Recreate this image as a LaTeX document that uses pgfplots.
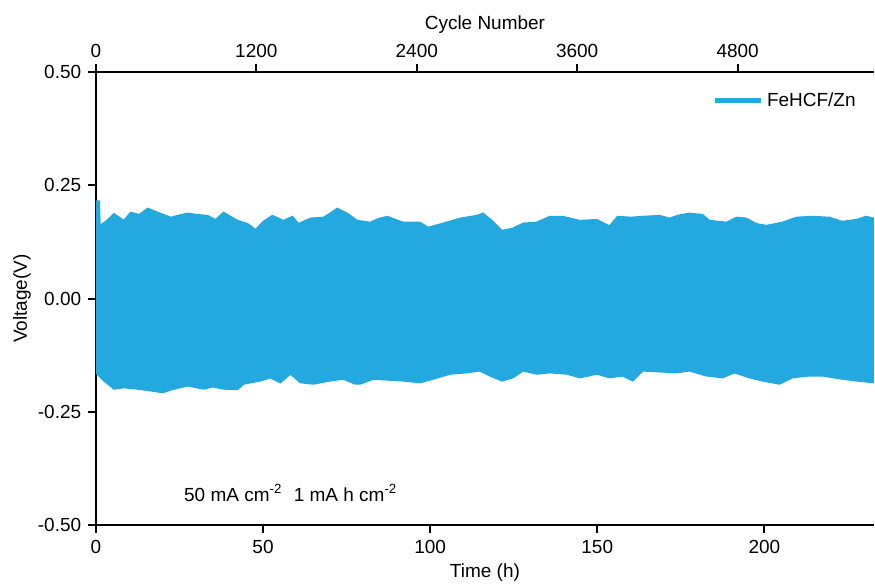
\documentclass[border=0pt]{standalone}
\usepackage{fontspec}
\setmainfont{Liberation Sans}
\usepackage{pgfplots}
\usepackage{pgfplotstable}
\pgfplotsset{compat=1.18}
\usepgfplotslibrary{fillbetween}
\definecolor{fecol}{RGB}{36,168,224}

% upper and lower envelope of the voltage band
\pgfplotstableread{
t v
0 0.215
1.0 0.215
1.2 0.161
3.0 0.170
5.4 0.187
8.4 0.172
10.4 0.190
13.0 0.185
15.5 0.199
18.5 0.190
22.4 0.179
25.0 0.184
27.5 0.188
30.4 0.185
33.4 0.183
35.8 0.174
38.2 0.190
40.5 0.180
42.4 0.172
45.4 0.165
47.8 0.152
50.1 0.170
52.8 0.183
56.1 0.172
58.8 0.181
60.6 0.165
64.2 0.177
68.1 0.179
70.5 0.190
72.2 0.199
75.2 0.188
78.2 0.172
82.1 0.168
84.5 0.176
87.2 0.181
91.9 0.168
97.0 0.168
99.4 0.157
103.9 0.166
109.0 0.177
114.0 0.183
115.8 0.188
118.5 0.172
121.5 0.150
124.8 0.155
127.8 0.166
131.9 0.168
135.8 0.181
139.7 0.181
144.8 0.172
149.9 0.174
153.7 0.160
156.1 0.181
160.0 0.179
163.6 0.181
168.7 0.183
171.6 0.177
174.5 0.184
177.6 0.188
181.5 0.185
183.6 0.172
188.7 0.168
191.6 0.179
194.6 0.177
197.6 0.165
200.6 0.161
205.4 0.168
209.6 0.179
214.3 0.181
219.4 0.179
223.3 0.170
227.5 0.174
230.4 0.181
232.8 0.177
}\upenv

\pgfplotstableread{
t v
0 -0.163
2.4 -0.181
5.4 -0.199
8.4 -0.196
12.5 -0.199
16.4 -0.203
20.0 -0.207
23.3 -0.199
27.5 -0.192
32.2 -0.199
35.0 -0.194
38.2 -0.199
42.4 -0.200
44.2 -0.188
49.3 -0.181
52.2 -0.174
55.2 -0.185
58.2 -0.166
61.2 -0.185
65.1 -0.188
70.1 -0.181
74.0 -0.177
77.6 -0.188
79.1 -0.188
83.0 -0.177
87.2 -0.179
91.9 -0.181
97.0 -0.185
100.9 -0.177
106.0 -0.166
111.0 -0.163
114.9 -0.159
117.9 -0.170
121.5 -0.181
124.8 -0.174
127.8 -0.159
131.9 -0.166
135.8 -0.163
140.9 -0.166
144.8 -0.174
149.9 -0.166
153.7 -0.174
157.6 -0.170
160.6 -0.181
163.6 -0.159
168.7 -0.161
173.7 -0.163
177.6 -0.159
182.7 -0.170
187.5 -0.174
191.0 -0.163
195.5 -0.174
199.4 -0.181
204.5 -0.188
208.4 -0.174
213.4 -0.170
217.3 -0.170
223.3 -0.177
227.5 -0.181
232.8 -0.185
}\loenv

\begin{document}
\fontsize{9.5}{11}\selectfont
\begin{tikzpicture}
\pgfplotsset{
  every axis/.append style={
    scale only axis, width=389.5pt, height=227pt,
    axis line style={line width=1pt},
    every tick/.style={black, line width=1pt},
    major tick length=4pt,
    tick align=outside,
    /pgf/number format/assume math mode=true,
    /pgf/number format/1000 sep={},
    ticklabel style={font=\fontsize{9.5}{11}\selectfont},
    label style={font=\fontsize{9.5}{11}\selectfont},
  }
}
\begin{axis}[
  name=ax,
  axis x line*=bottom, axis y line*=left,
  xmin=0, xmax=232.8,
  ymin=-0.5, ymax=0.5,
  xtick={0,50,100,150,200},
  ytick={-0.5,-0.25,0,0.25,0.5},
  yticklabel style={/pgf/number format/.cd, fixed, fixed zerofill, precision=2},
  xlabel={Time (h)},
  ylabel={Voltage(V)},
  xlabel style={yshift=1.5pt},
  ylabel style={yshift=-3pt},
  legend style={at={(1,1)}, anchor=north east, xshift=-4pt, yshift=-6pt,
    draw=none, fill=none, font=\fontsize{9.5}{11}\selectfont},
  legend image code/.code={\draw[#1] (0pt,0pt) -- (23pt,0pt);},
]
\addplot[name path=up, draw=fecol, line width=0.8pt, forget plot] table[x=t, y=v] {\upenv};
\addplot[name path=lo, draw=fecol, line width=0.8pt, forget plot] table[x=t, y=v] {\loenv};
\addplot[fill=fecol, draw=none, forget plot] fill between[of=up and lo];
\addlegendimage{fecol, line width=2.5pt}
\addlegendentry{FeHCF/Zn}
\node[anchor=west, inner sep=0pt] at (axis cs:26.3,-0.428)
  {50 mA cm\textsuperscript{-2}\hspace{0.6em}1 mA h cm\textsuperscript{-2}};
\end{axis}
\begin{axis}[
  axis x line*=top, hide y axis,
  xmin=0, xmax=5820,
  ymin=-0.5, ymax=0.5,
  xtick={0,1200,2400,3600,4800},
  xlabel={Cycle Number},
  xlabel style={yshift=-1.5pt},
]
\end{axis}
\path ([xshift=-48pt,yshift=-28.5pt]ax.south west) rectangle ([yshift=36pt]ax.north east);
\end{tikzpicture}
\end{document}
